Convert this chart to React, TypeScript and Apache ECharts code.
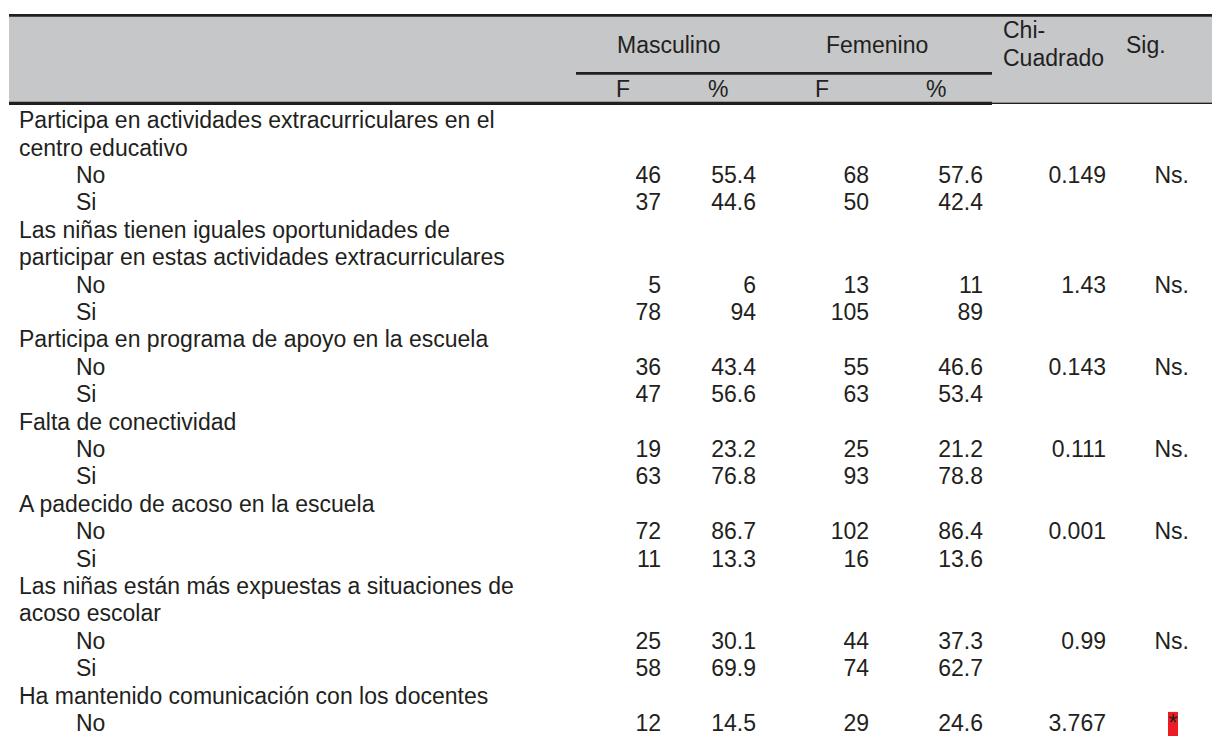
import React, { useEffect, useRef } from "react";
import * as echarts from "echarts";

// ---- data ----
const groupTitles: string[][] = [
  ["Participa en actividades extracurriculares en el", "centro educativo"],
  ["Las niñas tienen iguales oportunidades de", "participar en estas actividades extracurriculares"],
  ["Participa en programa de apoyo en la escuela"],
  ["Falta de conectividad"],
  ["A padecido de acoso en la escuela"],
  ["Las niñas están más expuestas a situaciones de", "acoso escolar"],
  ["Ha mantenido comunicación con los docentes"],
];
const answerLabels = ["No", "Si"];
const mascF: number[][] = [[46, 37], [5, 78], [36, 47], [19, 63], [72, 11], [25, 58], [12]];
const mascPct: string[][] = [["55.4", "44.6"], ["6", "94"], ["43.4", "56.6"], ["23.2", "76.8"], ["86.7", "13.3"], ["30.1", "69.9"], ["14.5"]];
const femF: number[][] = [[68, 50], [13, 105], [55, 63], [25, 93], [102, 16], [44, 74], [29]];
const femPct: string[][] = [["57.6", "42.4"], ["11", "89"], ["46.6", "53.4"], ["21.2", "78.8"], ["86.4", "13.6"], ["37.3", "62.7"], ["24.6"]];
const chiSquare: string[] = ["0.149", "1.43", "0.143", "0.111", "0.001", "0.99", "3.767"];
const significance: string[] = ["Ns.", "Ns.", "Ns.", "Ns.", "Ns.", "Ns.", "*"];
const headerGroups = ["Masculino", "Femenino"];
const headerSub = ["F", "%", "F", "%"];

const INK = "#231f20";
const FONT_FAMILY = "Liberation Sans";
const FS = 23;

export default function App() {
  const ref = useRef<HTMLDivElement>(null);
  useEffect(() => {
    document.body.style.margin = "0";
    const chart = echarts.init(ref.current!, undefined, { renderer: "svg" });
    const els: any[] = [];
    const txt = (s: string, x: number, y: number, align: string = "left", fill: string = INK) => {
      els.push({
        type: "text",
        x,
        y,
        z: 10,
        style: {
          text: s,
          x: 0,
          y: 0,
          fill,
          fontFamily: FONT_FAMILY,
          fontSize: FS,
          align,
          verticalAlign: "middle",
        },
      });
    };
    const hline = (x1: number, x2: number, y: number, w: number) => {
      els.push({ type: "line", shape: { x1, y1: y, x2, y2: y }, style: { stroke: INK, lineWidth: w }, z: 5 });
    };

    // header background and rules
    els.push({ type: "rect", shape: { x: 9, y: 16, width: 1203, height: 86 }, style: { fill: "#c6c7c9" }, z: 1 });
    hline(9, 1212, 15.3, 2.7);
    hline(576, 992, 73.3, 2.7);
    hline(9, 992, 103.3, 3.2);
    hline(992, 1212, 103.3, 1.5);

    // header texts
    txt(headerGroups[0], 617, 45.3);
    txt(headerGroups[1], 826, 45.3);
    txt("Chi-", 1003, 30);
    txt("Cuadrado", 1003, 58);
    txt("Sig.", 1126, 44.7);
    const subX = [616, 708, 815, 926];
    headerSub.forEach((s, i) => txt(s, subX[i], 88.7));

    // body
    const rowY = (k: number) => 120.1 + 27.4 * k;
    const colRight = [661, 756, 869, 983, 1106, 1189];
    let k = 0;
    groupTitles.forEach((lines, g) => {
      lines.forEach((l) => {
        txt(l, 19, rowY(k));
        k++;
      });
      mascF[g].forEach((_, a) => {
        const y = rowY(k);
        txt(answerLabels[a], 76, y);
        txt(String(mascF[g][a]), colRight[0], y, "right");
        txt(mascPct[g][a], colRight[1], y, "right");
        txt(String(femF[g][a]), colRight[2], y, "right");
        txt(femPct[g][a], colRight[3], y, "right");
        if (a === 0) {
          txt(chiSquare[g], colRight[4], y, "right");
          if (significance[g] === "*") {
            els.push({ type: "rect", shape: { x: 1168, y: y - 11, width: 10, height: 736 - (y - 11) }, style: { fill: "#ed1c24" }, z: 2 });
            txt("*", 1173, y, "center");
          } else {
            txt(significance[g], colRight[5], y, "right");
          }
        }
        k++;
      });
    });

    chart.setOption({ animation: false, backgroundColor: "#ffffff", graphic: { elements: els } });
    return () => chart.dispose();
  }, []);
  return <div ref={ref} style={{ width: 1212, height: 736 }} />;
}
